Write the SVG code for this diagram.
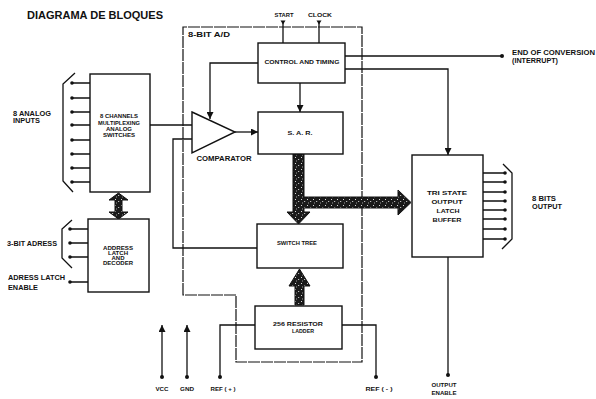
<svg xmlns="http://www.w3.org/2000/svg" width="596" height="399" viewBox="0 0 596 399">
<defs>
<style>
.ln{fill:none;stroke:#111;stroke-width:1.3}
.bx{fill:#fff;stroke:#111;stroke-width:1.4}
.bd{fill:none;stroke:#111;stroke-width:1.2;stroke-dasharray:12 1}
.t{font-family:"Liberation Sans",Arial,sans-serif;font-weight:bold;fill:#111}
.s{font-size:6.5px}
.xs{font-size:5.6px}
.xxs{font-size:4.6px}
.m{text-anchor:middle}
.dot{fill:#111}
.bus{fill:url(#speck);stroke:#111;stroke-width:1}
</style>
<marker id="ah" viewBox="0 0 8 8" refX="8" refY="4" markerWidth="7" markerHeight="7" markerUnits="userSpaceOnUse" orient="auto">
<path d="M0,0 L8,4 L0,8 Z" fill="#111"/>
</marker>
<pattern id="speck" width="6" height="6" patternUnits="userSpaceOnUse">
<rect width="6" height="6" fill="#1a1a1a"/>
<rect x="1" y="1" width="1" height="1" fill="#ddd"/>
<rect x="4" y="3" width="1.2" height="1" fill="#bbb"/>
<rect x="2" y="4.5" width="1" height="1" fill="#999"/>
</pattern>
</defs>

<text class="t" x="27" y="19" font-size="11" textLength="136" lengthAdjust="spacingAndGlyphs">DIAGRAMA DE BLOQUES</text>

<g id="boundary">
<path class="bd" d="M183,295 L183,27 L362,27 L362,362 L236,362 L236,295 Z"/>
<text class="t s" x="188" y="37" textLength="42" lengthAdjust="spacingAndGlyphs">8-BIT  A/D</text>
</g>

<g id="connectors">
<g class="ln">
<path d="M72,83H90M72,98H90M72,112H90M72,125H90M72,140H90M72,154H90M72,168H90M72,182H90"/>
<path d="M75,73 L63,84 L63,181 L73,192"/>
<path d="M70,229H88M70,243H88M70,257H88M70,282H88"/>
<path d="M72,220 L62,229 L62,258 L72,268"/>
<path d="M150,125H192"/>
<path d="M257,248H173V139H192"/>
<path d="M258,63H210V119" marker-end="url(#ah)"/>
<path d="M235,132H258" marker-end="url(#ah)"/>
<path d="M300,83V112" marker-end="url(#ah)"/>
<path d="M283,43V22M319,43V22"/>
<path d="M345,56H502"/>
<path d="M345,69H448V155" marker-end="url(#ah)"/>
<path d="M483,173H505M483,182H505M483,192H505M483,201H505M483,210H505M483,219H505M483,229H505M483,239H505"/>
<path d="M503,164 L512,173 L512,239 L502,249"/>
<path d="M448,257V375"/>
<path d="M255,325H220V377M342,325H376V377"/>
<path d="M162,377V325" marker-end="url(#ah)"/>
<path d="M187,377V325" marker-end="url(#ah)"/>
</g>
<g class="dot">
<circle cx="72" cy="83" r="1.8"/><circle cx="72" cy="98" r="1.8"/><circle cx="72" cy="112" r="1.8"/><circle cx="72" cy="125" r="1.8"/>
<circle cx="72" cy="140" r="1.8"/><circle cx="72" cy="154" r="1.8"/><circle cx="72" cy="168" r="1.8"/><circle cx="72" cy="182" r="1.8"/>
<circle cx="70" cy="229" r="1.8"/><circle cx="70" cy="243" r="1.8"/><circle cx="70" cy="257" r="1.8"/><circle cx="70" cy="282" r="1.8"/>
<circle cx="502" cy="56" r="2"/>
<circle cx="505" cy="173" r="1.8"/><circle cx="505" cy="182" r="1.8"/><circle cx="505" cy="192" r="1.8"/><circle cx="505" cy="201" r="1.8"/>
<circle cx="505" cy="210" r="1.8"/><circle cx="505" cy="219" r="1.8"/><circle cx="505" cy="229" r="1.8"/><circle cx="505" cy="239" r="1.8"/>
<circle cx="448" cy="375" r="2"/>
<circle cx="220" cy="377" r="2"/><circle cx="376" cy="377" r="2"/>
<circle cx="162" cy="377" r="2"/><circle cx="187" cy="377" r="2"/>
<path d="M280.5,20.5H285.5L283,24.5Z M316.5,20.5H321.5L319,24.5Z"/>
</g>
<path class="bus" d="M293,154 L304,154 L304,197 L398,197 L398,190 L411,202.5 L398,215 L398,208 L304,208 L304,212 L310,212 L298.5,224 L287,212 L293,212 Z"/>
<path class="bus" d="M295,305 L304,305 L304,286 L310,286 L299.5,269 L289,286 L295,286 Z"/>
<path class="bus" d="M115,200 L109,200 L118.5,193 L128,200 L122,200 L122,212 L128,212 L118.5,219 L109,212 L115,212 Z"/>
</g>

<g id="labels">
<text class="t s" x="13" y="116" textLength="38" lengthAdjust="spacingAndGlyphs">8 ANALOG</text>
<text class="t s" x="13" y="123" textLength="27" lengthAdjust="spacingAndGlyphs">INPUTS</text>
<text class="t s" x="7" y="246" textLength="50" lengthAdjust="spacingAndGlyphs">3-BIT ADRESS</text>
<text class="t s" x="8" y="280" textLength="57" lengthAdjust="spacingAndGlyphs">ADRESS LATCH</text>
<text class="t s" x="8" y="290" textLength="30" lengthAdjust="spacingAndGlyphs">ENABLE</text>
<text class="t xs m" x="284" y="17" textLength="19" lengthAdjust="spacingAndGlyphs">START</text>
<text class="t xs m" x="320" y="17" textLength="24" lengthAdjust="spacingAndGlyphs">CLOCK</text>
<text class="t s" x="512" y="55" textLength="83" lengthAdjust="spacingAndGlyphs">END OF CONVERSION</text>
<text class="t s" x="512" y="63" textLength="46" lengthAdjust="spacingAndGlyphs">(INTERRUPT)</text>
<text class="t s" x="532" y="201" textLength="24" lengthAdjust="spacingAndGlyphs">8 BITS</text>
<text class="t s" x="532" y="209" textLength="30" lengthAdjust="spacingAndGlyphs">OUTPUT</text>
<text class="t xs m" x="162" y="391" textLength="13" lengthAdjust="spacingAndGlyphs">VCC</text>
<text class="t xs m" x="187" y="391" textLength="14" lengthAdjust="spacingAndGlyphs">GND</text>
<text class="t xs m" x="223" y="391" textLength="25" lengthAdjust="spacingAndGlyphs">REF ( + )</text>
<text class="t xs m" x="379" y="391" textLength="27" lengthAdjust="spacingAndGlyphs">REF ( - )</text>
<text class="t xs m" x="444" y="387" textLength="25" lengthAdjust="spacingAndGlyphs">OUTPUT</text>
<text class="t xs m" x="444" y="395" textLength="25" lengthAdjust="spacingAndGlyphs">ENABLE</text>
</g>

<g id="mux">
<rect class="bx" x="90" y="74" width="60" height="118"/>
<text class="t xxs m" x="119" y="118" textLength="38" lengthAdjust="spacingAndGlyphs">8 CHANNELS</text>
<text class="t xxs m" x="119" y="124.5" textLength="42" lengthAdjust="spacingAndGlyphs">MULTIPLEXING</text>
<text class="t xxs m" x="119" y="130.5" textLength="26" lengthAdjust="spacingAndGlyphs">ANALOG</text>
<text class="t xxs m" x="119" y="137" textLength="32" lengthAdjust="spacingAndGlyphs">SWITCHES</text>
</g>

<g id="address-latch">
<rect class="bx" x="88" y="219" width="61" height="73"/>
<text class="t xxs m" x="118" y="250" textLength="30" lengthAdjust="spacingAndGlyphs">ADDRESS</text>
<text class="t xxs m" x="118" y="255" textLength="20" lengthAdjust="spacingAndGlyphs">LATCH</text>
<text class="t xxs m" x="118" y="260" textLength="13" lengthAdjust="spacingAndGlyphs">AND</text>
<text class="t xxs m" x="118" y="265" textLength="30" lengthAdjust="spacingAndGlyphs">DECODER</text>
</g>

<g id="comparator">
<path class="bx" d="M192,112 L235,132 L192,153 Z"/>
<text class="t s m" x="224" y="161" textLength="55" lengthAdjust="spacingAndGlyphs">COMPARATOR</text>
</g>

<g id="control">
<rect class="bx" x="258" y="43" width="87" height="40"/>
<text class="t xs m" x="302" y="64" textLength="75" lengthAdjust="spacingAndGlyphs">CONTROL AND TIMING</text>
</g>

<g id="sar">
<rect class="bx" x="258" y="112" width="85" height="42"/>
<text class="t xs m" x="300" y="135" textLength="25" lengthAdjust="spacingAndGlyphs">S. A. R.</text>
</g>

<g id="switch-tree">
<rect class="bx" x="257" y="224" width="86" height="44"/>
<text class="t xs m" x="297" y="245" textLength="40" lengthAdjust="spacingAndGlyphs">SWITCH TREE</text>
</g>

<g id="ladder">
<rect class="bx" x="255" y="306" width="87" height="43"/>
<text class="t xs m" x="298" y="326" textLength="50" lengthAdjust="spacingAndGlyphs">256 RESISTOR</text>
<text class="t xs m" x="303" y="333" textLength="22" lengthAdjust="spacingAndGlyphs">LADDER</text>
</g>

<g id="tristate">
<rect class="bx" x="412" y="155" width="71" height="102"/>
<text class="t xs m" x="447" y="195" textLength="40" lengthAdjust="spacingAndGlyphs">TRI STATE</text>
<text class="t xs m" x="447" y="204" textLength="31" lengthAdjust="spacingAndGlyphs">OUTPUT</text>
<text class="t xs m" x="448" y="213" textLength="23" lengthAdjust="spacingAndGlyphs">LATCH</text>
<text class="t xs m" x="447" y="222" textLength="29" lengthAdjust="spacingAndGlyphs">BUFFER</text>
</g>
</svg>
